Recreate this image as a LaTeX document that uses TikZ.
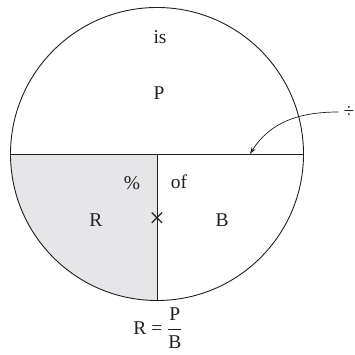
\documentclass[tikz,border=0pt]{standalone}
\usepackage{amsmath}
\usepackage{fontspec}
\setmainfont{Liberation Serif}
\usetikzlibrary{arrows.meta, positioning, calc}
\definecolor{inkgray}{HTML}{231F20}
\definecolor{quadgray}{HTML}{E6E6E8}

\begin{document}
\begin{tikzpicture}[
  x=1pt, y=1pt,
  >={Stealth[length=7pt, width=4.5pt]},
  word/.style={font=\fontsize{19.5}{22}\selectfont, text=inkgray, inner sep=0pt},
  edge/.style={draw=inkgray, line width=0.9pt},
  pointer/.style={->, line width=0.7pt, inkgray},
]

% Frame
\useasboundingbox (0,0) rectangle (354,355);

% Circle
\node[circle, minimum size=293pt, inner sep=0pt] (disc) at (157,201) {};

% Shaded quadrant
\fill[quadgray] (disc.center) -- (disc.west)
  arc[start angle=180, end angle=270, radius=146.5pt] -- cycle;

% Dividers
\draw[edge] (disc.west) -- (disc.east);
\draw[edge] (disc.center) -- (disc.south);
\draw[edge] (disc.center) circle[radius=146.5pt];

% =============================================
% Labels
% =============================================
\node[word] (is) at (160,318) {is};
\node[word] (part) at (159,262) {P};
\node[word] (pct) at (132,172) {\%};
\node[word] (of) at (179,173) {of};
\node[word] (rate) at (96,135) {R};
\node[word, font=\fontsize{28}{30}\selectfont] (times) at (157,135) {×};
\node[word] (base) at (222,135) {B};

% Divide sign with arrow
\node[word] (divide) at (349,243) {÷};
\coordinate (hit) at (250,201);
\draw[pointer] (divide.west) ++(-5,0) to[out=180, in=58] (hit);

% Formula
\node[word] (formula) at (158,27) {R = $\dfrac{\text{P}}{\text{B}}$};

\end{tikzpicture}
\end{document}
